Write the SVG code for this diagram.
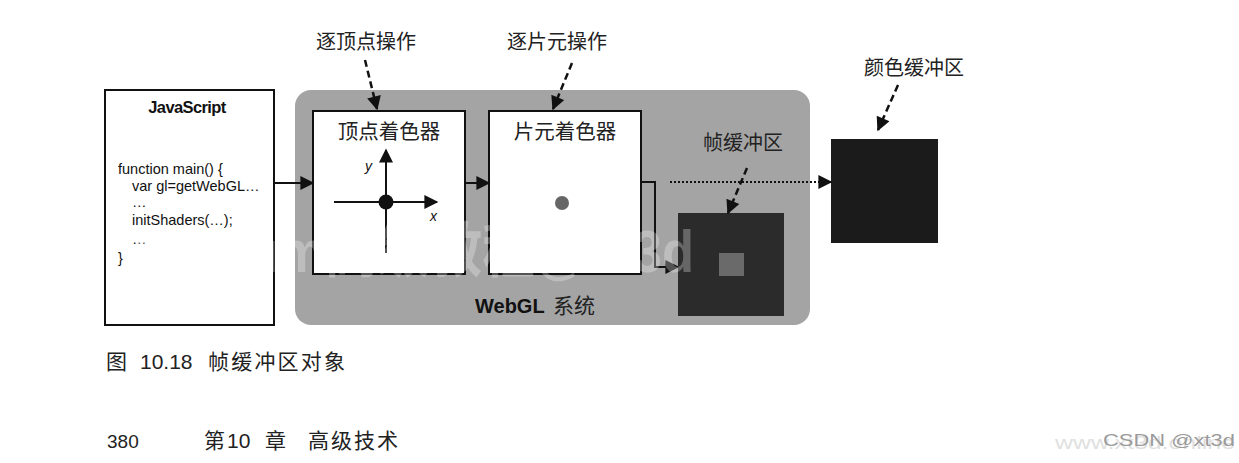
<svg xmlns="http://www.w3.org/2000/svg" width="1239" height="463" viewBox="0 0 1239 463">
<style>
.cn{font-family:"Noto Sans CJK SC","Liberation Sans",sans-serif;fill:#222}
.code{font-family:"Liberation Sans",Arial,sans-serif;font-size:14.5px;fill:#111}
.box{fill:#fff;stroke:#111;stroke-width:2}
.ln{stroke:#111;stroke-width:2;fill:none}
.dash{stroke:#111;stroke-width:2.5;fill:none;stroke-dasharray:7,4}
</style>
<defs>
<marker id="ahL" viewBox="0 0 10 10" refX="9" refY="5" markerWidth="16" markerHeight="14" orient="auto" markerUnits="userSpaceOnUse">
<path d="M0,0 L10,5 L0,10 z" fill="#111"/>
</marker>
</defs>
<rect width="1239" height="463" fill="#fff"/>
<g id="webgl">
<rect x="295" y="90" width="515" height="235" rx="16" fill="#a4a4a4"/>
<text x="475" y="313" font-family="Liberation Sans,Arial,sans-serif" font-weight="bold" font-size="20" fill="#111">WebGL</text>
<text x="553" y="313" class="cn" font-size="21">系统</text>
</g>
<g id="javascript">
<rect x="105" y="90" width="169" height="235" class="box"/>
<text x="187" y="113" text-anchor="middle" font-family="Liberation Sans,Arial,sans-serif" font-weight="bold" font-size="16.5" letter-spacing="-0.6" fill="#111">JavaScript</text>
<text x="118" y="174" class="code">function main() {</text>
<text x="132" y="191" class="code">var gl=getWebGL…</text>
<text x="132" y="207" class="code">…</text>
<text x="132" y="225" class="code">initShaders(…);</text>
<text x="132" y="244" class="code">…</text>
<text x="118" y="263" class="code">}</text>
</g>
<g id="vertex-shader">
<rect x="313" y="111" width="152" height="163" class="box"/>
<text x="389" y="139" text-anchor="middle" class="cn" font-size="20.5">顶点着色器</text>
<line x1="386" y1="253" x2="386" y2="150" class="ln" marker-end="url(#ahL)"/>
<line x1="334" y1="202" x2="437" y2="202" class="ln" marker-end="url(#ahL)"/>
<circle cx="386" cy="202" r="7.5" fill="#111"/>
<text x="365" y="171" font-family="Liberation Sans,Arial,sans-serif" font-style="italic" font-size="14" fill="#111">y</text>
<text x="430" y="221" font-family="Liberation Sans,Arial,sans-serif" font-style="italic" font-size="14" fill="#111">x</text>
</g>
<g id="fragment-shader">
<rect x="489" y="111" width="152" height="163" class="box"/>
<text x="565" y="139" text-anchor="middle" class="cn" font-size="20.5">片元着色器</text>
<circle cx="562" cy="203" r="7" fill="#666"/>
</g>
<g id="framebuffer">
<rect x="678" y="213" width="106" height="103" fill="#2b2b2b"/>
<rect x="719" y="253" width="25" height="23" fill="#6a6a6a"/>
<text x="743" y="150" text-anchor="middle" class="cn" font-size="20">帧缓冲区</text>
</g>
<g id="colorbuffer">
<rect x="831" y="139" width="107" height="104" fill="#1b1b1b"/>
<text x="914" y="75" text-anchor="middle" class="cn" font-size="20">颜色缓冲区</text>
</g>
<g id="labels">
<text x="366" y="49" text-anchor="middle" class="cn" font-size="20">逐顶点操作</text>
<text x="557" y="49" text-anchor="middle" class="cn" font-size="20">逐片元操作</text>
</g>
<g id="connectors">
<line x1="274" y1="183" x2="313" y2="183" class="ln" marker-end="url(#ahL)"/>
<line x1="465" y1="183" x2="489" y2="183" class="ln" marker-end="url(#ahL)"/>
<polyline points="641,182 655,182 655,267 678,267" class="ln" marker-end="url(#ahL)"/>
<line x1="670" y1="182" x2="831" y2="182" stroke="#111" stroke-width="2" stroke-dasharray="2,2" marker-end="url(#ahL)"/>
<line x1="365" y1="60" x2="377" y2="109" class="dash" marker-end="url(#ahL)"/>
<line x1="572" y1="63" x2="553" y2="109" class="dash" marker-end="url(#ahL)"/>
<line x1="747" y1="168" x2="728" y2="213" class="dash" marker-end="url(#ahL)"/>
<line x1="898" y1="85" x2="878" y2="130" class="dash" marker-end="url(#ahL)"/>
</g>
<g id="watermark">
<text x="135" y="272" textLength="559" lengthAdjust="spacingAndGlyphs" font-family="Liberation Sans,'Noto Sans CJK SC',sans-serif" font-weight="bold" font-size="60" fill="#ffffff" fill-opacity="0.28">Cesium高级教程@xt3d</text>
<text x="1055" y="449" textLength="180" lengthAdjust="spacingAndGlyphs" font-family="Liberation Sans,Arial,sans-serif" font-size="18" fill="#e0e0e0">www.xt3d.online</text>
<text x="1103" y="446" textLength="132" lengthAdjust="spacingAndGlyphs" font-family="Liberation Sans,Arial,sans-serif" font-size="17" fill="#9a9a9a">CSDN @xt3d</text>
</g>
<g id="caption">
<text x="106" y="369" class="cn" font-size="21">图</text>
<text x="140" y="369" font-family="Liberation Sans,Arial,sans-serif" font-size="21" fill="#222">10.18</text>
<text x="208" y="369" class="cn" font-size="21" letter-spacing="2.2">帧缓冲区对象</text>
<text x="107" y="448" font-family="Liberation Sans,Arial,sans-serif" font-size="19" fill="#222">380</text>
<text x="204" y="448" class="cn" font-size="21">第</text>
<text x="227" y="448" font-family="Liberation Sans,Arial,sans-serif" font-size="21" fill="#222">10</text>
<text x="265" y="448" class="cn" font-size="21">章</text>
<text x="308" y="448" class="cn" font-size="21" letter-spacing="2">高级技术</text>
</g>
</svg>
